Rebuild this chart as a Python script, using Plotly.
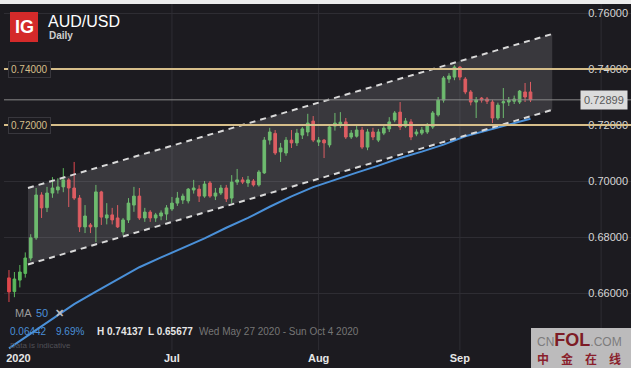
import pandas as pd
import plotly.graph_objects as go

# ---------------- data ----------------
# daily candles (IG: Sunday-Friday sessions), May 27 -> Sep 16 2020
all_days = pd.date_range("2020-05-27", "2020-09-16", freq="D")
candle_days = [d for d in all_days if d.weekday() != 5]
dates = [d.strftime("%Y-%m-%d") + " 12:00" for d in candle_days]

opens = [0.6654, 0.6605, 0.6646, 0.6670, 0.6725, 0.6797, 0.6950, 0.6905, 0.6957, 0.6968,
         0.6979, 0.7004, 0.6975, 0.6939, 0.6836, 0.6843, 0.6836, 0.6961, 0.6868, 0.6879,
         0.6868, 0.6818, 0.6861, 0.6914, 0.6946, 0.6868, 0.6889, 0.6868, 0.6875, 0.6882,
         0.6900, 0.6921, 0.6932, 0.6929, 0.6968, 0.6971, 0.6946, 0.6993, 0.6946, 0.6957,
         0.6975, 0.6939, 0.6996, 0.7004, 0.6993, 0.7000, 0.6986, 0.7029, 0.7146, 0.7170,
         0.7104, 0.7100, 0.7146, 0.7136, 0.7164, 0.7175, 0.7214, 0.7139, 0.7146, 0.7129,
         0.7196, 0.7200, 0.7211, 0.7157, 0.7160, 0.7182, 0.7121, 0.7175, 0.7146, 0.7171,
         0.7186, 0.7218, 0.7246, 0.7196, 0.7211, 0.7168, 0.7171, 0.7175, 0.7193, 0.7236,
         0.7289, 0.7364, 0.7371, 0.7407, 0.7364, 0.7318, 0.7282, 0.7296, 0.7293, 0.7282,
         0.7225, 0.7279, 0.7282, 0.7285, 0.7282, 0.7318, 0.7318]
highs = [0.6682, 0.6675, 0.6700, 0.6745, 0.6810, 0.6975, 0.6960, 0.6979, 0.7014, 0.7010,
         0.7046, 0.7010, 0.7068, 0.6950, 0.6914, 0.6850, 0.6986, 0.6965, 0.6921, 0.6904,
         0.6914, 0.6868, 0.6939, 0.6979, 0.6975, 0.6904, 0.6896, 0.6886, 0.6895, 0.6914,
         0.6943, 0.6961, 0.6955, 0.6975, 0.7004, 0.6985, 0.7000, 0.7000, 0.6975, 0.6986,
         0.6986, 0.7021, 0.7043, 0.7014, 0.7018, 0.7007, 0.7039, 0.7157, 0.7190, 0.7182,
         0.7136, 0.7157, 0.7182, 0.7186, 0.7193, 0.7240, 0.7232, 0.7157, 0.7150, 0.7200,
         0.7243, 0.7246, 0.7225, 0.7182, 0.7200, 0.7193, 0.7186, 0.7190, 0.7186, 0.7200,
         0.7228, 0.7250, 0.7282, 0.7225, 0.7221, 0.7185, 0.7193, 0.7207, 0.7250, 0.7300,
         0.7375, 0.7385, 0.74137, 0.7410, 0.7371, 0.7325, 0.7300, 0.7300, 0.7300, 0.7290,
         0.7280, 0.7332, 0.7300, 0.7305, 0.7325, 0.7350, 0.7354]
lows = [0.65677, 0.6585, 0.6620, 0.6655, 0.6715, 0.6790, 0.6868, 0.6889, 0.6940, 0.6955,
        0.6960, 0.6907, 0.6932, 0.6818, 0.6814, 0.6814, 0.6782, 0.6843, 0.6845, 0.6845,
        0.6832, 0.6807, 0.6850, 0.6890, 0.6861, 0.6854, 0.6854, 0.6854, 0.6860, 0.6860,
        0.6893, 0.6911, 0.6918, 0.6920, 0.6955, 0.6925, 0.6940, 0.6940, 0.6932, 0.6950,
        0.6925, 0.6920, 0.6986, 0.6989, 0.6979, 0.6980, 0.6980, 0.7025, 0.7130, 0.7093,
        0.7068, 0.7090, 0.7118, 0.7125, 0.7150, 0.7160, 0.7139, 0.7125, 0.7082, 0.7120,
        0.7180, 0.7190, 0.7150, 0.7150, 0.7155, 0.7114, 0.7110, 0.7146, 0.7139, 0.7164,
        0.7175, 0.7210, 0.7182, 0.7190, 0.7146, 0.7160, 0.7164, 0.7168, 0.7186, 0.7230,
        0.7280, 0.7350, 0.7360, 0.7360, 0.7310, 0.7270, 0.7225, 0.7280, 0.7275, 0.7207,
        0.7218, 0.7225, 0.7268, 0.7275, 0.7275, 0.7282, 0.7282]
closes = [0.6604, 0.6650, 0.6675, 0.6725, 0.6797, 0.6950, 0.6904, 0.6957, 0.6975, 0.6979,
          0.7004, 0.6975, 0.6939, 0.6836, 0.6875, 0.6836, 0.6961, 0.6871, 0.6879, 0.6861,
          0.6836, 0.6861, 0.6921, 0.6946, 0.6868, 0.6889, 0.6868, 0.6879, 0.6886, 0.6904,
          0.6921, 0.6939, 0.6946, 0.6971, 0.6975, 0.6946, 0.6989, 0.6946, 0.6957, 0.6975,
          0.6936, 0.6996, 0.7004, 0.6996, 0.7004, 0.6986, 0.7032, 0.7146, 0.7175, 0.7100,
          0.7118, 0.7146, 0.7136, 0.7171, 0.7186, 0.7207, 0.7146, 0.7146, 0.7136, 0.7193,
          0.7207, 0.7210, 0.7157, 0.7171, 0.7182, 0.7121, 0.7175, 0.7157, 0.7175, 0.7189,
          0.7211, 0.7243, 0.7193, 0.7214, 0.7157, 0.7175, 0.7182, 0.7200, 0.7243, 0.7289,
          0.7368, 0.7375, 0.7407, 0.7371, 0.7318, 0.7282, 0.7290, 0.7289, 0.7285, 0.7225,
          0.7271, 0.7283, 0.7289, 0.7293, 0.7321, 0.7300, 0.72899]

# 50-day moving average (read at every 4th session)
ma_dates = dates[::4]
ma_values = [0.6402, 0.6455, 0.6508, 0.6560, 0.6605, 0.6648, 0.6692, 0.6727, 0.6760, 0.6795,
             0.6833, 0.6868, 0.6908, 0.6945, 0.6978, 0.7005, 0.7030, 0.7055, 0.7082, 0.7105,
             0.7130, 0.7160, 0.7180, 0.7200, 0.7222]

# trend channel end points
channel_dates = ["2020-06-01 00:00", "2020-09-21 12:00"]
channel_upper = [0.6975, 0.7525]
channel_lower = [0.6702, 0.7254]

# horizontal levels
levels = [0.74, 0.72]
level_labels = ["0.74000", "0.72000"]
last_price = 0.72899

# axes
y_ticks = [0.64, 0.66, 0.68, 0.70, 0.72, 0.74, 0.76]
y_tick_labels = ["0.64000", "0.66000", "0.68000", "0.70000", "0.72000", "0.74000", "0.76000"]
x_ticks = ["2020-05-29 06:00", "2020-07-01 12:00", "2020-08-02 12:00", "2020-09-01 12:00", "2020-10-01 12:00"]
x_tick_labels = ["2020", "Jul", "Aug", "Sep", "Oct"]
month_lines = x_ticks[1:]

# ---------------- layout helpers ----------------
W_FIG, H_FIG = 631, 368
ML, MR, MT, MB = 4, 0, 4, 18
PW, PH = W_FIG - ML - MR, H_FIG - MT - MB


def px(x):
    return (x - ML) / PW


def py(y):
    return (MT + PH - y) / PH


FONT = "Liberation Sans, Arial, sans-serif"
BG = "#1c1b20"
GRID = "#2e2d33"
GOLD = "#d6be8a"
BLUE = "#4a90d8"
GREEN = "#5cb85c"
RED = "#e0474c"

fig = go.Figure()

# channel fill
fig.add_trace(go.Scatter(
    x=[channel_dates[0], channel_dates[1], channel_dates[1], channel_dates[0], channel_dates[0]],
    y=[channel_upper[0], channel_upper[1], channel_lower[1], channel_lower[0], channel_upper[0]],
    mode="lines", fill="toself", fillcolor="rgba(200,200,210,0.17)",
    line=dict(width=0), hoverinfo="skip"))

# moving average
fig.add_trace(go.Scatter(x=ma_dates, y=ma_values, mode="lines",
                         line=dict(color=BLUE, width=2), hoverinfo="skip"))

# channel lines
for ys in (channel_upper, channel_lower):
    fig.add_trace(go.Scatter(x=channel_dates, y=ys, mode="lines",
                             line=dict(color="#d9d9d9", width=2, dash="6px,5px"),
                             hoverinfo="skip"))

# candles
fig.add_trace(go.Candlestick(
    x=dates, open=opens, high=highs, low=lows, close=closes,
    increasing=dict(line=dict(color=GREEN, width=1), fillcolor=GREEN),
    decreasing=dict(line=dict(color=RED, width=1), fillcolor=RED),
    whiskerwidth=0))

shapes = []
for d in month_lines:
    shapes.append(dict(type="line", xref="x", yref="paper", x0=d, x1=d, y0=0, y1=1,
                       line=dict(color=GRID, width=1), layer="below"))
for lv in levels:
    shapes.append(dict(type="line", xref="paper", yref="y", x0=0, x1=1, y0=lv, y1=lv,
                       line=dict(color=GOLD, width=2), layer="above"))
shapes.append(dict(type="line", xref="paper", yref="y", x0=0, x1=1, y0=last_price, y1=last_price,
                   line=dict(color="#8a8a8a", width=1), layer="above"))
# top light strip
shapes.append(dict(type="rect", xref="paper", yref="paper", x0=px(0), x1=px(W_FIG),
                   y0=py(MT), y1=py(0), fillcolor="#ececec", line=dict(width=0), layer="above"))
# IG logo box
shapes.append(dict(type="rect", xref="paper", yref="paper", x0=px(10), x1=px(38),
                   y0=py(42), y1=py(12), fillcolor="#d42a2a", line=dict(width=0), layer="above"))
# watermark box
shapes.append(dict(type="rect", xref="paper", yref="paper", x0=px(531), x1=px(W_FIG),
                   y0=py(H_FIG), y1=py(328), fillcolor="rgba(214,214,214,0.86)",
                   line=dict(width=0), layer="above"))

ann = []


def note(text, x, y, size=10, color="#dddddd", xanchor="left", **kw):
    ann.append(dict(text=text, xref="paper", yref="paper", x=px(x), y=py(y),
                    xanchor=xanchor, yanchor="middle", showarrow=False,
                    font=dict(family=kw.pop("family", FONT), size=size, color=color), **kw))


note("<b>IG</b>", 24, 27, size=18, color="white", xanchor="center")
note("AUD/USD", 46, 21, size=16, color="white")
note("<b>Daily</b>", 47, 35, size=10, color="#cfcfcf")

for lv, lab in zip(levels, level_labels):
    ann.append(dict(text=lab, xref="paper", yref="y", x=px(8), y=lv, xanchor="left",
                    yanchor="middle", showarrow=False, bgcolor=BG, bordercolor="#38373d",
                    borderwidth=1, borderpad=2, font=dict(family=FONT, size=10, color=GOLD)))
ann.append(dict(text=f"{last_price:.5f}", xref="paper", yref="y", x=px(628), y=last_price,
                xanchor="right", yanchor="middle", showarrow=False, bgcolor="#dcdcdc",
                borderpad=3, font=dict(family=FONT, size=11, color="#5a5a5a")))

note("MA", 13, 313, size=11, color="#9a9a9a")
note("50", 34, 313, size=11, color=BLUE)
note("<b>✕</b>", 53, 313, size=11, color="#bdbdbd")
note("0.06442", 8, 331, size=10, color=BLUE)
note("9.69%", 54, 331, size=10, color=BLUE)
note("<b>H 0.74137</b>", 95, 331, size=10, color="#e6e6e6")
note("<b>L 0.65677</b>", 146, 331, size=10, color="#e6e6e6")
note("Wed May 27 2020 - Sun Oct 4 2020", 197, 331, size=10, color="#767676")
note("Data is indicative", 8, 345, size=8, color="#505056")

# watermark
note('<span style="color:#7c7c7c">CN</span><b><span style="font-size:18px;color:#7d1b26">FOL</span></b>'
     '<span style="color:#7c7c7c">.COM</span>', 535, 340, size=12, color="#7c7c7c")
note("<b>中　金　在　线</b>", 535, 359, size=12, color="#8a1f2c",
     family="Noto Sans CJK SC, sans-serif")

fig.update_layout(
    width=W_FIG, height=H_FIG,
    margin=dict(l=ML, r=MR, t=MT, b=MB),
    paper_bgcolor=BG, plot_bgcolor=BG,
    showlegend=False, hovermode=False,
    shapes=shapes, annotations=ann,
    font=dict(family=FONT),
    xaxis=dict(
        type="date",
        range=["2020-05-26 14:00", "2020-10-08 00:00"],
        rangebreaks=[dict(bounds=["sat", "sun"])],
        rangeslider=dict(visible=False),
        tickvals=x_ticks, ticktext=["<b>%s</b>" % t for t in x_tick_labels],
        tickfont=dict(family=FONT, size=11, color="#e6e6e6"),
        showgrid=False, zeroline=False, showline=False, ticks="",
    ),
    yaxis=dict(
        side="right",
        range=[0.639643, 0.763214],
        tickvals=y_ticks, ticktext=y_tick_labels,
        ticklabelposition="inside",
        tickfont=dict(family=FONT, size=11, color="#d6d6d6"),
        showgrid=True, gridcolor=GRID, gridwidth=1,
        zeroline=False, showline=False, ticks="",
    ),
)

fig.write_html("out.html", config={"displayModeBar": False},
               post_script="document.body.style.margin='0';document.body.style.overflow='hidden';")
